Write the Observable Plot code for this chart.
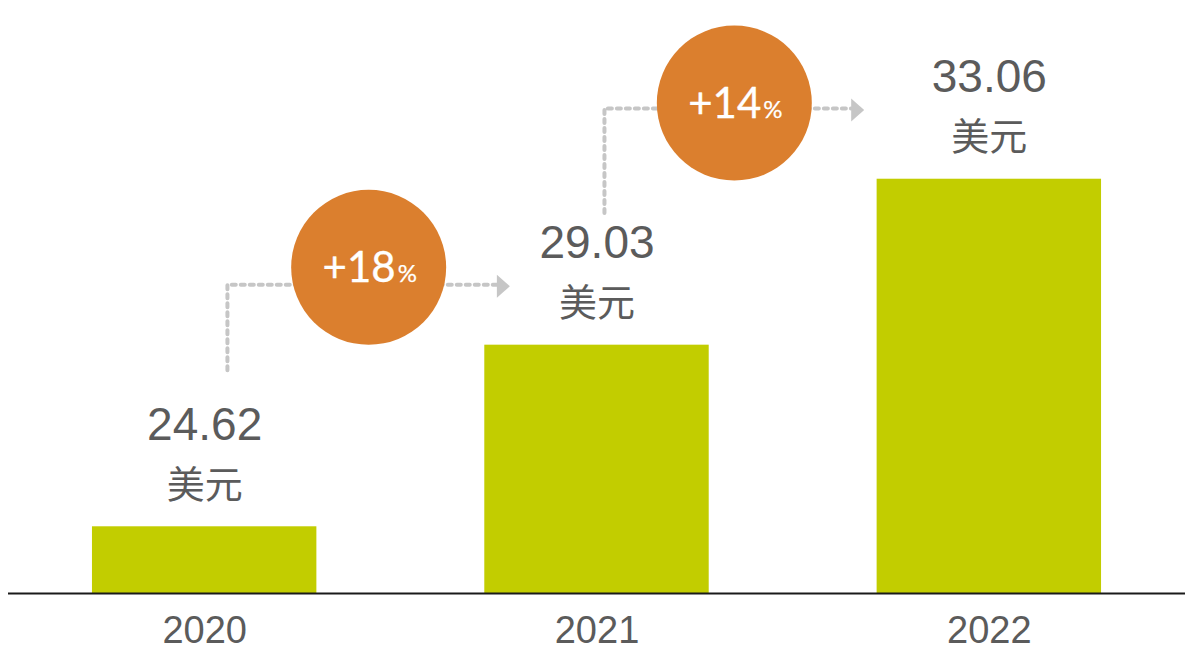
<!DOCTYPE html>
<html><head><meta charset="utf-8">
<script src="https://cdn.jsdelivr.net/npm/d3@7"></script>
<script src="https://cdn.jsdelivr.net/npm/@observablehq/plot@0.6"></script>
<style>body{margin:0;background:#fff;overflow:hidden}</style>
</head><body><div id="chart"></div>
<script>
// ---- data ----
const years = [2020, 2021, 2022];
const values = [24.62, 29.03, 33.06];
const unitLabel = "美元";
const growthFrom = [2020, 2021];
const growthLabels = ["+18", "+14"];
const percentSign = "%";

// ---- annotation layout (chart coordinates) ----
const annLayout = [
  {vx: 0.058, y0: 28.42, y1: 30.50, tip: 0.778, cx: 0.418, cy: 30.92},
  {vx: 0.019, y0: 32.24, y1: 34.78, tip: 0.681, cx: 0.350, cy: 34.91}
];

const bars = years.map((year, i) => ({year, value: values[i]}));
const growth = growthFrom.map((from, i) => {
  const L = annLayout[i];
  return {id: i, label: growthLabels[i], x: from + L.cx, y: L.cy,
          vx: from + L.vx, y0: L.y0, y1: L.y1, tip: from + L.tip};
});
const headLen = 13 / 392.33;
const paths = growth.flatMap(g => [
  {id: g.id, x: g.vx, y: g.y0},
  {id: g.id, x: g.vx, y: g.y1},
  {id: g.id, x: g.tip - headLen, y: g.y1}
]);
const arrowHead = {
  draw(ctx) {
    ctx.moveTo(-13, -11.5);
    ctx.lineTo(0, 0);
    ctx.lineTo(-13, 11.5);
    ctx.closePath();
  }
};

const gray = "#5b5b5b";
const base = 23;

const chart = Plot.plot({
  width: 1200,
  height: 663,
  marginLeft: 8,
  marginRight: 15,
  marginTop: 0,
  marginBottom: 70,
  style: {background: "#fff", color: gray},
  x: {domain: [2019.5, 2022.5], label: null},
  y: {domain: [base, 37.4], axis: null},
  marks: [
    Plot.rectY(bars, {x1: d => d.year - 0.286, x2: d => d.year + 0.286, y1: base, y2: "value", fill: "#C2CD00"}),
    Plot.ruleY([base], {stroke: "#1a1a1a", strokeWidth: 2}),
    Plot.axisX({ticks: years, tickFormat: d => String(d), tickSize: 0, tickPadding: 23,
      fontSize: 38, fontFamily: "Liberation Sans, Arial, sans-serif", color: gray, label: null}),
    Plot.text(bars, {x: "year", y: "value", text: d => d.value.toFixed(2), dy: -87, lineAnchor: "bottom",
      fontSize: 46, fontFamily: "Liberation Sans, Arial, sans-serif", fill: gray}),
    Plot.text(bars, {x: "year", y: "value", text: () => unitLabel, dy: -29, lineAnchor: "bottom",
      fontSize: 38, fontFamily: "Noto Sans CJK SC, sans-serif", fill: gray}),
    Plot.line(paths, {x: "x", y: "y", z: "id", stroke: "#c6c6c6", strokeWidth: 4,
      strokeDasharray: "4 5", curve: "linear"}),
    Plot.dot(growth, {x: "tip", y: "y1", symbol: arrowHead, fill: "#c6c6c6", stroke: "none", dy: 1.5}),
    Plot.dot(growth, {x: "x", y: "y", r: 77.5, fill: "#DB7F2E", stroke: "none"}),
    Plot.text(growth, {x: "x", y: "y", text: "label", textAnchor: "end", dx: 27, dy: 15, lineAnchor: "bottom",
      fontSize: 42, fontFamily: "Lato, sans-serif", fill: "#fff", stroke: "#fff", strokeWidth: 0.35}),
    Plot.text(growth, {x: "x", y: "y", text: () => percentSign, textAnchor: "start", dx: 29, dy: 15, lineAnchor: "bottom",
      fontSize: 24, fontFamily: "Lato, sans-serif", fill: "#fff", stroke: "#fff", strokeWidth: 0.25})
  ]
});
document.getElementById("chart").appendChild(chart);
</script>
</body></html>
